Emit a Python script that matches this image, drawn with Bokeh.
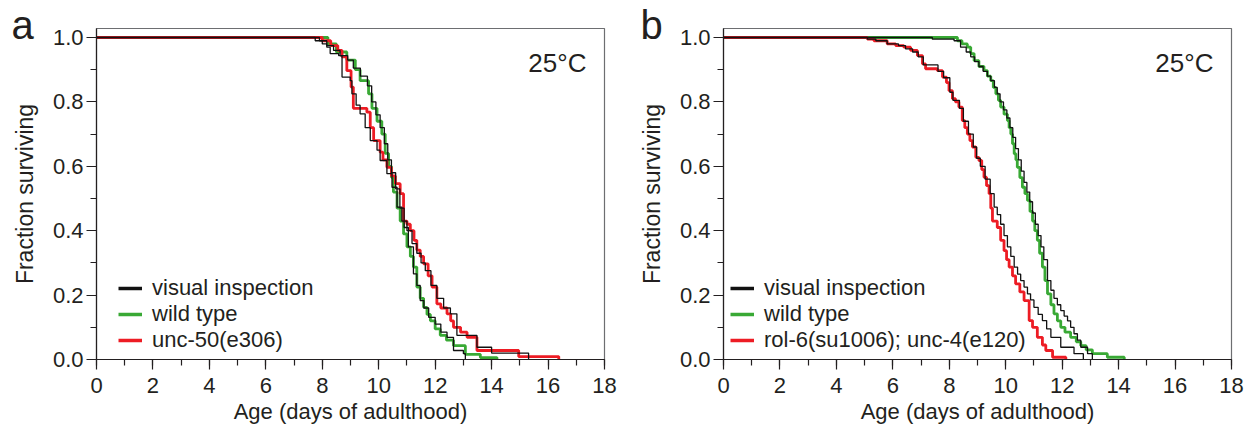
from bokeh.plotting import figure
from bokeh.layouts import row
from bokeh.models import (Range1d, FixedTicker, Legend, LegendItem, Label, NumeralTickFormatter,
                          ColumnDataSource, CDSView, IndexFilter, Title)
from bokeh.embed import file_html
from bokeh.resources import INLINE

# ---------------- data ----------------
# Panel a
a_red_t = [0, 8.0, 8.3, 8.55, 8.7, 8.87, 9.02, 9.1, 9.58, 9.7, 9.82, 10.05, 10.15, 10.29, 10.45, 10.59,
           10.76, 10.88, 11.0, 11.12, 11.25, 11.35, 11.47, 11.59, 11.75, 11.89, 12.06, 12.2, 12.42, 12.55,
           12.65, 12.9, 13.13, 13.48, 14.96, 16.38]
a_red_s = [1.0, 0.99, 0.975, 0.96, 0.94, 0.897, 0.846, 0.78, 0.768, 0.72, 0.68, 0.644, 0.62, 0.597, 0.57, 0.546,
           0.515, 0.43, 0.42, 0.40, 0.37, 0.34, 0.32, 0.297, 0.26, 0.225, 0.173, 0.16, 0.142, 0.12,
           0.10, 0.085, 0.069, 0.028, 0.009, 0.0]

a_green_t = [0, 8.2, 8.5, 8.87, 9.17, 9.34, 9.64, 9.76, 9.94, 10.11, 10.23, 10.35, 10.45, 10.52, 10.65, 10.76,
             10.88, 11.0, 11.12, 11.23, 11.35, 11.47, 11.59, 11.71, 11.83, 12.0, 12.18, 12.4, 12.65, 13.07,
             13.6, 14.19]
a_green_s = [1.0, 0.98, 0.955, 0.93, 0.90, 0.866, 0.825, 0.78, 0.74, 0.70, 0.64, 0.60, 0.566, 0.52, 0.47, 0.43,
             0.39, 0.35, 0.32, 0.287, 0.225, 0.19, 0.162, 0.14, 0.12, 0.095, 0.075, 0.06, 0.043, 0.016,
             0.006, 0.0]

a_black1_t = [0, 7.75, 8.0, 8.16, 8.28, 8.58, 8.7, 8.99, 9.05, 9.2, 9.34, 9.52, 9.7, 9.94, 10.05, 10.29, 10.47,
              10.65, 10.82, 11.0, 11.18, 11.35, 11.5, 11.65, 11.85, 12.06, 12.3, 12.54, 12.77, 13.48, 14.0, 15.31]
a_black1_s = [1.0, 0.99, 0.98, 0.97, 0.95, 0.944, 0.877, 0.866, 0.825, 0.79, 0.763, 0.72, 0.68, 0.65, 0.618, 0.577,
              0.535, 0.473, 0.43, 0.40, 0.36, 0.33, 0.30, 0.276, 0.23, 0.19, 0.16, 0.142, 0.075, 0.038, 0.02, 0.0]

a_black2_t = [0, 7.9, 8.16, 8.4, 8.63, 8.9, 9.1, 9.35, 9.6, 9.75, 9.9, 10.05, 10.2, 10.32, 10.45, 10.6, 10.75,
              10.9, 11.05, 11.23, 11.35, 11.47, 11.6, 11.77, 12.0, 12.2, 12.42, 12.65, 13.0, 13.07]
a_black2_s = [1.0, 0.99, 0.975, 0.96, 0.944, 0.93, 0.905, 0.88, 0.85, 0.80, 0.76, 0.72, 0.67, 0.62, 0.58, 0.53,
              0.47, 0.41, 0.35, 0.266, 0.23, 0.183, 0.16, 0.131, 0.11, 0.085, 0.069, 0.028, 0.018, 0.0]

# Panel b
b_red_t = [0, 5.1, 5.33, 5.8, 6.1, 6.39, 6.63, 6.87, 7.05, 7.16, 7.58, 7.76, 7.9, 7.99, 8.11, 8.22, 8.34, 8.46,
           8.55, 8.64, 8.73, 8.82, 8.94, 9.05, 9.15, 9.23, 9.32, 9.41, 9.47, 9.53, 9.7, 9.82, 9.94, 10.03, 10.12,
           10.24, 10.35, 10.5, 10.65, 10.83, 10.95, 11.12, 11.3, 11.42, 11.66, 12.13]
b_red_s = [1.0, 0.995, 0.99, 0.98, 0.975, 0.97, 0.96, 0.944, 0.918, 0.903, 0.897, 0.877, 0.86, 0.835, 0.81, 0.80,
           0.784, 0.742, 0.72, 0.70, 0.68, 0.66, 0.628, 0.618, 0.59, 0.566, 0.54, 0.515, 0.47, 0.43, 0.41, 0.37,
           0.338, 0.31, 0.287, 0.26, 0.235, 0.21, 0.183, 0.121, 0.10, 0.069, 0.045, 0.028, 0.007, 0.0]

b_green_t = [0, 8.29, 8.45, 8.64, 8.76, 8.88, 9.05, 9.23, 9.35, 9.47, 9.56, 9.65, 9.74, 9.82, 9.94, 10.06, 10.12,
             10.18, 10.24, 10.3, 10.36, 10.41, 10.5, 10.59, 10.68, 10.77, 10.86, 10.95, 11.03, 11.12, 11.2, 11.3,
             11.39, 11.48, 11.6, 11.71, 11.83, 11.95, 12.1, 12.3, 12.5, 12.66, 12.85, 13.07, 13.6, 14.2]
b_green_s = [1.0, 0.99, 0.98, 0.97, 0.95, 0.928, 0.91, 0.897, 0.88, 0.866, 0.845, 0.825, 0.805, 0.784, 0.762,
             0.742, 0.72, 0.70, 0.67, 0.639, 0.62, 0.597, 0.565, 0.535, 0.515, 0.494, 0.46, 0.43, 0.40, 0.37,
             0.33, 0.287, 0.245, 0.204, 0.17, 0.142, 0.12, 0.10, 0.085, 0.069, 0.055, 0.043, 0.03, 0.018, 0.007, 0.0]

b_black1_t = [0, 5.1, 5.4, 5.8, 6.2, 6.45, 6.7, 6.9, 7.08, 7.6, 7.8, 8.02, 8.13, 8.36, 8.5, 8.68, 8.85, 8.97, 9.1,
              9.27, 9.45, 9.59, 9.7, 9.82, 9.94, 10.06, 10.18, 10.3, 10.42, 10.53, 10.65, 10.77, 10.88, 11.0,
              11.15, 11.3, 11.45, 11.6, 11.95, 12.42, 12.75]
b_black1_s = [1.0, 0.995, 0.99, 0.98, 0.975, 0.965, 0.955, 0.94, 0.915, 0.895, 0.875, 0.83, 0.805, 0.78, 0.74,
              0.70, 0.66, 0.625, 0.60, 0.56, 0.515, 0.473, 0.45, 0.42, 0.385, 0.35, 0.32, 0.287, 0.265, 0.245,
              0.225, 0.204, 0.185, 0.162, 0.14, 0.121, 0.095, 0.069, 0.038, 0.018, 0.0]

b_black2_t = [0, 7.4, 8.17, 8.4, 8.6, 8.76, 8.9, 9.05, 9.2, 9.35, 9.47, 9.6, 9.7, 9.8, 9.92, 10.04, 10.15, 10.25,
              10.35, 10.45, 10.55, 10.65, 10.75, 10.85, 10.95, 11.05, 11.15, 11.25, 11.35, 11.48, 11.6, 11.71,
              11.83, 11.95, 12.07, 12.19, 12.3, 12.42, 12.54, 12.66, 12.9, 13.07]
b_black2_s = [1.0, 0.995, 0.99, 0.97, 0.955, 0.94, 0.925, 0.91, 0.895, 0.88, 0.866, 0.845, 0.825, 0.80, 0.775,
              0.75, 0.72, 0.69, 0.655, 0.62, 0.585, 0.55, 0.52, 0.49, 0.455, 0.42, 0.385, 0.35, 0.31, 0.245,
              0.215, 0.19, 0.17, 0.152, 0.135, 0.12, 0.10, 0.08, 0.06, 0.038, 0.018, 0.0]

x_major = [0, 2, 4, 6, 8, 10, 12, 14, 16, 18]
x_minor = list(range(0, 19))
y_major = [0.0, 0.2, 0.4, 0.6, 0.8, 1.0]
y_minor = [0.0, 0.1, 0.2, 0.3, 0.4, 0.5, 0.6, 0.7, 0.8, 0.9, 1.0]

legend_a = ["visual inspection", "wild type", "unc-50(e306)"]
legend_b = ["visual inspection", "wild type", "rol-6(su1006); unc-4(e120)"]

# ---------------- styling ----------------
FONT = "Liberation Sans"
TXT = "#231f20"
RED = "#ed1c24"
GREEN = "#39a935"
BLACK = "#111111"


def make_panel(letter, letter_offset, curves, labels, width, bl, br, leg_x):
    p = figure(width=width, height=437, x_range=Range1d(0, 18), y_range=Range1d(0, 1.028),
               output_backend="svg", toolbar_location=None,
               min_border_left=bl, min_border_right=br, min_border_top=28, min_border_bottom=78)
    p.grid.visible = False
    p.outline_line_color = "#6d6e71"
    p.outline_line_width = 1.2
    p.background_fill_color = "white"
    p.border_fill_color = "white"

    for ax in (p.xaxis, p.yaxis):
        ax.axis_line_color = TXT
        ax.axis_line_width = 1.2
        ax.major_tick_line_color = TXT
        ax.minor_tick_line_color = TXT
        ax.major_tick_line_width = 1.2
        ax.minor_tick_line_width = 1.2
        ax.major_tick_in = 0
        ax.minor_tick_in = 0
        ax.major_tick_out = 10
        ax.minor_tick_out = 6
        ax.major_label_text_font = FONT
        ax.major_label_text_font_size = "22px"
        ax.major_label_text_color = TXT
        ax.axis_label_text_font = FONT
        ax.axis_label_text_font_size = "22px"
        ax.axis_label_text_font_style = "normal"
        ax.axis_label_text_color = TXT

    p.yaxis.axis_label_text_font_size = "23px"
    p.xaxis.ticker = FixedTicker(ticks=x_major, minor_ticks=x_minor)
    p.yaxis.ticker = FixedTicker(ticks=y_major, minor_ticks=y_minor)
    p.yaxis.formatter = NumeralTickFormatter(format="0.0")
    p.xaxis.axis_label = "Age (days of adulthood)"
    p.yaxis.axis_label = "Fraction surviving"
    p.xaxis.major_label_standoff = 8
    p.yaxis.major_label_standoff = 3
    p.xaxis.axis_label_standoff = 3
    p.yaxis.axis_label_standoff = 12

    (rt, rs), (gt, gs), (b1t, b1s), (b2t, b2s) = curves
    p.step(gt, gs, mode="after", line_color=GREEN, line_width=2.8)
    p.step(rt, rs, mode="after", line_color=RED, line_width=2.8)
    p.step(b1t, b1s, mode="after", line_color=BLACK, line_width=1.3)
    p.step(b2t, b2s, mode="after", line_color=BLACK, line_width=1.3)

    # legend proxies: same data, only a single point kept (draws nothing), thicker swatches
    def proxy(t, s, color):
        src = ColumnDataSource(dict(x=t, y=s))
        return p.line("x", "y", source=src, view=CDSView(filter=IndexFilter(indices=[0])),
                      line_color=color, line_width=3.5)
    lk = proxy(b1t, b1s, BLACK)
    lg = proxy(gt, gs, GREEN)
    lr = proxy(rt, rs, RED)
    leg = Legend(items=[LegendItem(label=labels[0], renderers=[lk]),
                        LegendItem(label=labels[1], renderers=[lg]),
                        LegendItem(label=labels[2], renderers=[lr])],
                 location=(leg_x, 6), padding=0, margin=0, spacing=0,
                 glyph_width=24, glyph_height=20, label_height=20, label_standoff=10,
                 label_text_font=FONT, label_text_font_size="22px", label_text_color=TXT,
                 border_line_color=None, background_fill_alpha=0)
    p.add_layout(leg, "center")

    p.add_layout(Title(text=letter, align="left", offset=letter_offset, standoff=-36,
                       text_font=FONT, text_font_size="40px", text_font_style="normal",
                       text_color=TXT), "above")

    p.add_layout(Label(x=17.36, y=0.922, text="25°C", text_font=FONT, text_font_size="26px",
                       text_color=TXT, text_align="right", text_baseline="alphabetic"))
    return p


pa = make_panel("a", -85,
                [(a_red_t, a_red_s), (a_green_t, a_green_s), (a_black1_t, a_black1_s), (a_black2_t, a_black2_s)],
                legend_a, 626, 96, 22, 22)
pb = make_panel("b", -83,
                [(b_red_t, b_red_s), (b_green_t, b_green_s), (b_black1_t, b_black1_s), (b_black2_t, b_black2_s)],
                legend_b, 627, 97, 22, 7)

layout = row(pa, pb)
open("out.html", "w").write(file_html(layout, INLINE))
